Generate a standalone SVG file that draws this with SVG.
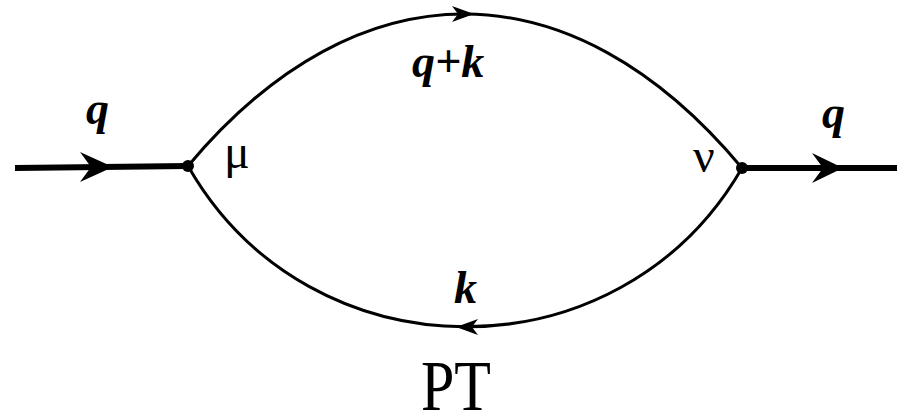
<svg xmlns="http://www.w3.org/2000/svg" width="897" height="416" viewBox="0 0 897 416">
<style>
.arc{fill:none;stroke:#000;stroke-width:3}
.ext{fill:none;stroke:#000;stroke-width:6}
.hd{fill:#000;stroke:none}
.lbl{font-family:"Liberation Serif",serif;font-weight:bold;font-style:italic;font-size:46px;fill:#000}
.idx{font-family:"Liberation Serif",serif;font-size:48px;fill:#000}
</style>
<rect width="897" height="416" fill="#fff"/>
<g id="connectors">
<path class="ext" d="M15,168 L188,166"/>
<path class="hd" d="M113,167 L80,152 L91,167 L80,182 Z"/>
<path class="ext" d="M742,168 L897,168"/>
<path class="hd" d="M843,168 L812,153 L823,168 L812,183 Z"/>
<path class="arc" d="M188,166 C358,-37 571,-37 742,168"/>
<path class="hd" d="M474,14 L452,6 L458,14 L452,22 Z"/>
<path class="arc" d="M188,166 C310,380 620,380 742,168"/>
<path class="hd" d="M456,327 L478,319 L472,327 L478,335 Z"/>
</g>
<g id="mu"><circle cx="188" cy="166" r="6"/><text class="idx" x="224" y="168">μ</text></g>
<g id="nu"><circle cx="742" cy="168" r="6"/><text class="idx" x="693" y="172">ν</text></g>
<g id="labels">
<text class="lbl" x="86" y="124">q</text>
<text class="lbl" x="822" y="128">q</text>
<text class="lbl" x="412" y="77">q+k</text>
<text class="lbl" x="454" y="303">k</text>
<text transform="translate(456,410) scale(1,1.2)" text-anchor="middle" style="font-family:'Liberation Serif',serif;font-size:60px">PT</text>
</g>
</svg>
